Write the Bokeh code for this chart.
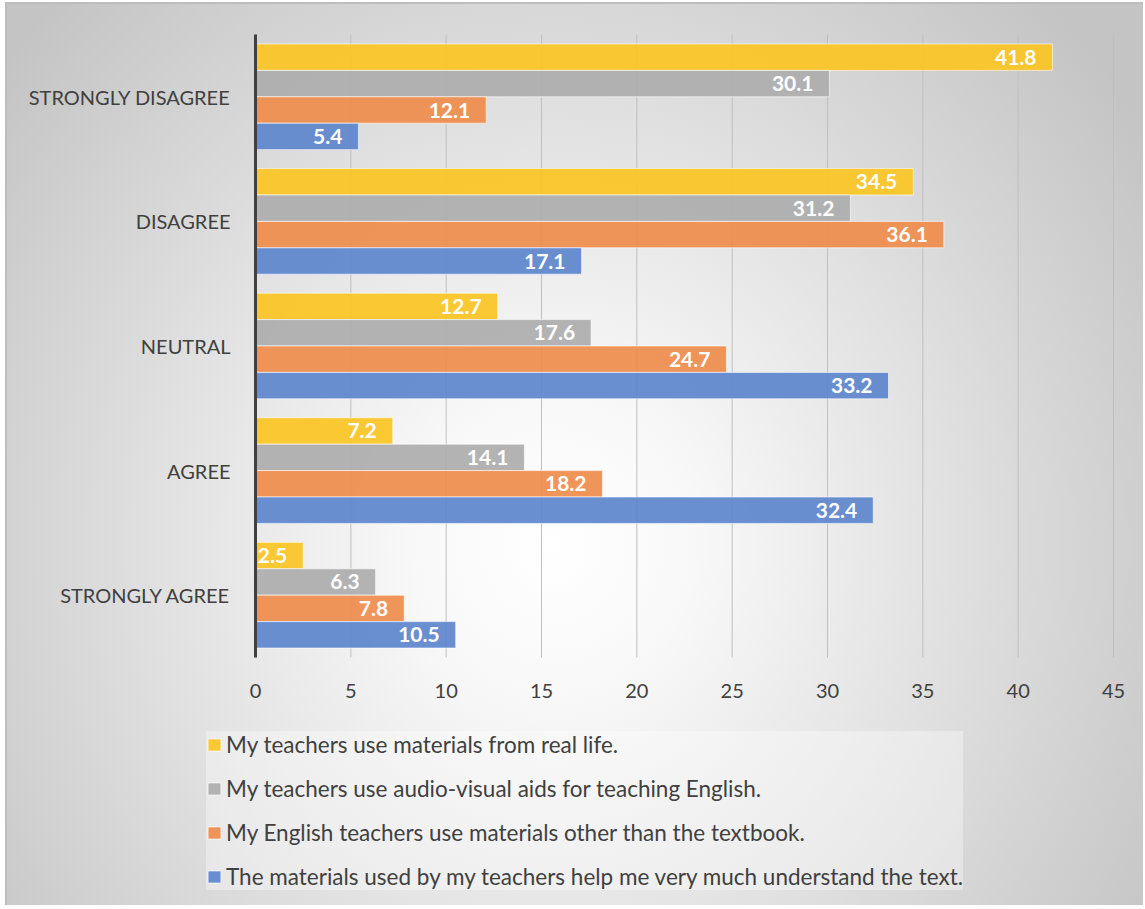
from bokeh.plotting import figure
from bokeh.models import ColumnDataSource, Range1d, FixedTicker, Legend, LegendItem
from bokeh.core.properties import value
from bokeh.embed import file_html
from bokeh.resources import INLINE

categories = ["STRONGLY DISAGREE", "DISAGREE", "NEUTRAL", "AGREE", "STRONGLY AGREE"]
series_names = [
    "My teachers use materials from real life.",
    "My teachers use audio-visual aids for teaching English.",
    "My English teachers use materials other than the textbook.",
    "The materials used by my teachers help me very much understand the text.",
]
real_life = [41.8, 34.5, 12.7, 7.2, 2.5]
audio_visual = [30.1, 31.2, 17.6, 14.1, 6.3]
other_materials = [12.1, 36.1, 24.7, 18.2, 7.8]
understand_text = [5.4, 17.1, 33.2, 32.4, 10.5]
x_ticks = [0, 5, 10, 15, 20, 25, 30, 35, 40, 45]
colors = ["#FBC523", "#ADADAD", "#EE8D4D", "#5E86CD"]

series_values = [real_life, audio_visual, other_materials, understand_text]

FONT = "Lato"
n_cat = len(categories)
cat_pos = [n_cat - i - 0.5 for i in range(n_cat)]          # category centres
bar_h = 0.212
offsets = [1.5 * bar_h, 0.5 * bar_h, -0.5 * bar_h, -1.5 * bar_h]

# layout geometry (pixels): plot area 858 px for 0..45, 124.6 px per category
W, H = 1138, 903
left_px, right_px, top_px, bottom_px = 248, 32, 30, 250
kx = 858 / 45.0
ky = 124.6
x_range = Range1d(-left_px / kx, 45 + right_px / kx)
y_range = Range1d(-bottom_px / ky, n_cat + top_px / ky)

p = figure(
    width=W, height=H, x_range=x_range, y_range=y_range,
    output_backend="svg", toolbar_location=None,
    min_border_left=0, min_border_top=0, min_border_right=0, min_border_bottom=0,
)
p.styles = {
    "background": "radial-gradient(ellipse 706px 768px at 546px 542px, #ffffff 0%, #f8f8f8 20%, #c4c4c4 100%)",
    "margin-left": "5px",
    "margin-top": "2px",
    "border-left": "2px solid #BDBDBD",
    "border-top": "2px solid #BDBDBD",
}
p.background_fill_color = None
p.border_fill_color = None
p.outline_line_color = None
p.xgrid.grid_line_color = None
p.ygrid.grid_line_color = None

# vertical grid lines limited to the category area
p.segment(x0=x_ticks, x1=x_ticks, y0=[0] * len(x_ticks), y1=[n_cat] * len(x_ticks),
          line_color="#BFBFBF", line_width=1)

renderers = []
for name, vals, col, off in zip(series_names, series_values, colors, offsets):
    src = ColumnDataSource(dict(y=[c + off for c in cat_pos], val=vals,
                                lab=[f"{v:.1f}" for v in vals]))
    r = p.hbar(y="y", left=0, right="val", height=bar_h, source=src,
               fill_color=col, fill_alpha=0.93,
               line_color="white", line_alpha=0.6, line_width=1)
    renderers.append(r)
    p.text(x="val", y="y", text="lab", source=src,
           x_offset=-16, text_align="right", text_baseline="middle",
           text_color="white", text_font=value(FONT), text_font_style="bold",
           text_font_size="21px")

# x axis drawn at y = 0
p.xaxis.fixed_location = 0
p.xaxis.bounds = (0, 45)
p.xaxis.ticker = FixedTicker(ticks=x_ticks)
p.xaxis.axis_line_color = None
p.xaxis.major_tick_line_color = None
p.xaxis.minor_tick_line_color = None
p.xaxis.major_label_text_font = FONT
p.xaxis.major_label_text_font_size = "20px"
p.xaxis.major_label_text_color = "#404040"
p.xaxis.major_label_standoff = 20

# y axis drawn at x = 0
p.yaxis.fixed_location = 0
p.yaxis.bounds = (0, n_cat)
p.yaxis.ticker = FixedTicker(ticks=cat_pos)
p.yaxis.major_label_overrides = {pos: cat for pos, cat in zip(cat_pos, categories)}
p.yaxis.axis_line_color = "#404040"
p.yaxis.axis_line_width = 3
p.yaxis.major_tick_line_color = None
p.yaxis.minor_tick_line_color = None
p.yaxis.major_label_text_font = FONT
p.yaxis.major_label_text_font_size = "20px"
p.yaxis.major_label_text_color = "#404040"
p.yaxis.major_label_standoff = 19

legend = Legend(
    items=[LegendItem(label=n, renderers=[r]) for n, r in zip(series_names, renderers)],
    location=(199, 17), orientation="vertical",
    padding=8, margin=0, spacing=17, label_height=24,
    glyph_height=15, glyph_width=16, label_standoff=4,
    label_text_font=FONT, label_text_font_size="22.5px", label_text_color="#404040",
    background_fill_color="white", background_fill_alpha=0.35, border_line_color=None,
)
p.add_layout(legend)

open("out.html", "w").write(file_html(p, INLINE))
